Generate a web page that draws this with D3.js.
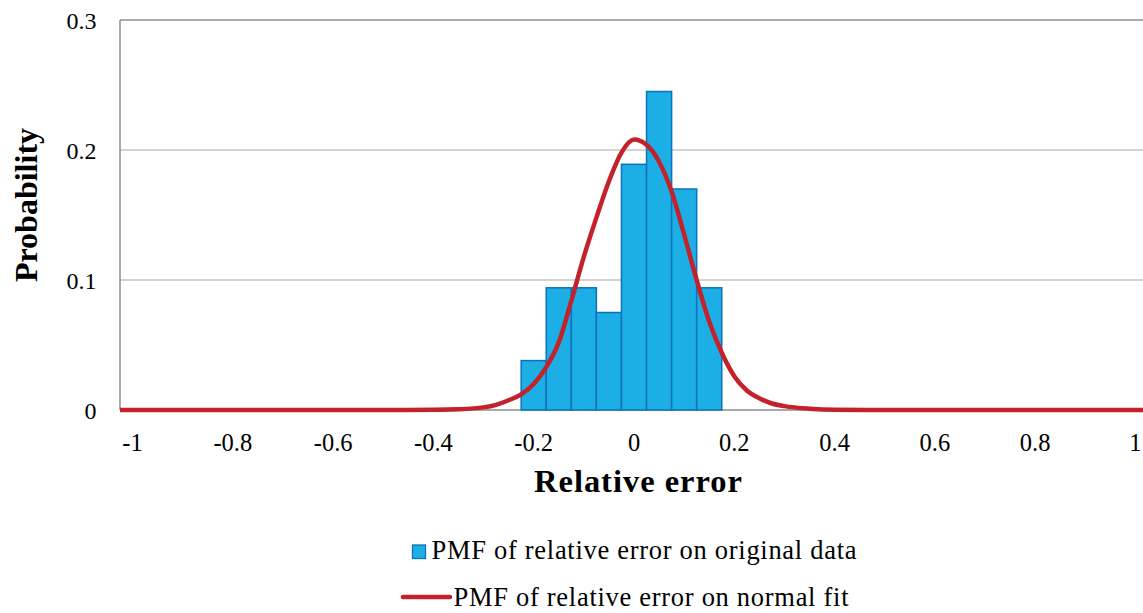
<!DOCTYPE html>
<html>
<head>
<meta charset="utf-8">
<script src="https://cdn.jsdelivr.net/npm/d3@7/dist/d3.min.js"></script>
<style>
  body { margin: 0; background: #fff; }
</style>
</head>
<body>
<script>
// histogram bins (centre of bin, width 0.05)
var binCentres = [-0.2, -0.15, -0.1, -0.05, 0, 0.05, 0.1, 0.15];
var binProb = [0.038, 0.094, 0.094, 0.075, 0.189, 0.245, 0.170, 0.094];

// normal fit curve
var fitX = [-1.025, -0.5, -0.4, -0.35, -0.3, -0.275, -0.25, -0.225, -0.2, -0.175, -0.15, -0.125, -0.1, -0.075, -0.05, -0.025, 0, 0.025, 0.05, 0.075, 0.1, 0.125, 0.15, 0.175, 0.2, 0.225, 0.25, 0.275, 0.3, 0.35, 0.4, 0.5, 1.025];
var fitY = [0, 0, 0.0001, 0.0005, 0.002, 0.004, 0.0075, 0.012, 0.02, 0.033, 0.052, 0.084, 0.118, 0.148, 0.176, 0.198, 0.208, 0.204, 0.191, 0.168, 0.135, 0.1, 0.068, 0.044, 0.026, 0.015, 0.009, 0.005, 0.003, 0.001, 0.0002, 0, 0];

var xTicks = [-1, -0.8, -0.6, -0.4, -0.2, 0, 0.2, 0.4, 0.6, 0.8, 1];
var yTicks = [0, 0.1, 0.2, 0.3];
var binWidth = 0.05;

var width = 1143, height = 613;
var serif = "'Liberation Serif', 'Times New Roman', Times, serif";
var blueFill = "#1bafe5", blueEdge = "#1070bd", red = "#c4222a";

var svg = d3.select("body").append("svg")
    .attr("width", width)
    .attr("height", height)
    .attr("font-family", serif);

var x = d3.scaleLinear().domain([-1.025, 1.025]).range([120, 1148]);
var y = d3.scaleLinear().domain([0, 0.3]).range([410, 20]);

// gridlines
svg.append("g")
    .selectAll("line")
    .data(yTicks.slice(1, 3))
    .enter().append("line")
    .attr("x1", x(-1.025)).attr("x2", width)
    .attr("y1", d => y(d)).attr("y2", d => y(d))
    .attr("stroke", "#c6c6c6")
    .attr("stroke-width", 1.5);

// top border + left axis + bottom axis
svg.append("line")
    .attr("x1", x(-1.025)).attr("x2", width)
    .attr("y1", y(0.3)).attr("y2", y(0.3))
    .attr("stroke", "#8e8e8e").attr("stroke-width", 1.5);
svg.append("line")
    .attr("x1", x(-1.025)).attr("x2", x(-1.025))
    .attr("y1", y(0.3)).attr("y2", y(0))
    .attr("stroke", "#8e8e8e").attr("stroke-width", 1.5);
svg.append("line")
    .attr("x1", x(-1.025)).attr("x2", width)
    .attr("y1", y(0)).attr("y2", y(0))
    .attr("stroke", "#8e8e8e").attr("stroke-width", 1.5);

// bars
svg.append("g")
    .selectAll("rect")
    .data(binCentres)
    .enter().append("rect")
    .attr("x", d => x(d - binWidth / 2))
    .attr("width", d => x(d + binWidth / 2) - x(d - binWidth / 2))
    .attr("y", (d, i) => y(binProb[i]))
    .attr("height", (d, i) => y(0) - y(binProb[i]))
    .attr("fill", blueFill)
    .attr("stroke", blueEdge)
    .attr("stroke-width", 1.5);

// fit line
var line = d3.line()
    .x(d => x(d))
    .y((d, i) => y(fitY[i]))
    .curve(d3.curveMonotoneX);

svg.append("path")
    .attr("d", line(fitX))
    .attr("fill", "none")
    .attr("stroke", red)
    .attr("stroke-width", 4.5)
    .attr("stroke-linejoin", "round");

// y tick labels
svg.append("g")
    .selectAll("text")
    .data(yTicks)
    .enter().append("text")
    .attr("x", 96.5)
    .attr("y", d => y(d) + 8.7)
    .attr("text-anchor", "end")
    .attr("font-size", 24)
    .text(d => d);

// x tick labels
svg.append("g")
    .selectAll("text")
    .data(xTicks)
    .enter().append("text")
    .attr("x", d => x(d))
    .attr("y", 451)
    .attr("text-anchor", "middle")
    .attr("font-size", 24.5)
    .text(d => d);

// axis titles
svg.append("text")
    .attr("x", 638)
    .attr("y", 491.5)
    .attr("text-anchor", "middle")
    .attr("font-size", 32.5)
    .attr("font-weight", "bold")
    .attr("textLength", 208)
    .text("Relative error");

svg.append("text")
    .attr("transform", "translate(36.5,205) rotate(-90)")
    .attr("text-anchor", "middle")
    .attr("font-size", 32)
    .attr("font-weight", "bold")
    .text("Probability");

// legend
svg.append("rect")
    .attr("x", 412.5).attr("y", 545)
    .attr("width", 13).attr("height", 13.5)
    .attr("fill", blueFill)
    .attr("stroke", blueEdge)
    .attr("stroke-width", 1.3);
svg.append("text")
    .attr("x", 431.5).attr("y", 559)
    .attr("font-size", 26.5)
    .attr("textLength", 425)
    .text("PMF of relative error on original data");

svg.append("line")
    .attr("x1", 403).attr("x2", 450)
    .attr("y1", 597).attr("y2", 597)
    .attr("stroke", red)
    .attr("stroke-width", 4.5)
    .attr("stroke-linecap", "round");
svg.append("text")
    .attr("x", 453.5).attr("y", 606)
    .attr("font-size", 26.5)
    .attr("textLength", 395)
    .text("PMF of relative error on normal fit");
</script>
</body>
</html>
